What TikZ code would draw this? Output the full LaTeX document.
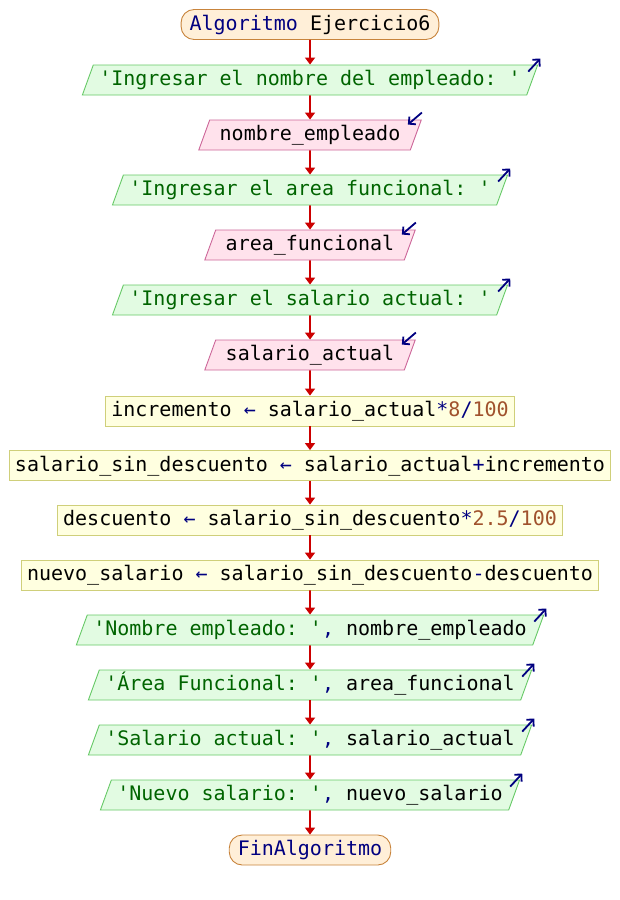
\documentclass[tikz,border=0pt]{standalone}
\usepackage{fontspec}
\setmonofont{DejaVu Sans Mono}
\usetikzlibrary{shapes.geometric,arrows.meta,calc}

\definecolor{termfill}{HTML}{FFEFD8}
\definecolor{termline}{HTML}{C8843C}
\definecolor{outfill}{HTML}{E2FBE2}
\definecolor{outline}{HTML}{66C966}
\definecolor{infill}{HTML}{FFE2EC}
\definecolor{inline}{HTML}{CC6699}
\definecolor{procfill}{HTML}{FFFFE0}
\definecolor{procline}{HTML}{CFCF7A}
\definecolor{flowred}{HTML}{CC0000}
\definecolor{kwblue}{HTML}{000080}
\definecolor{strgreen}{HTML}{006400}
\definecolor{numbrown}{HTML}{A0522D}

% token colouring
\newcommand{\pkw}[1]{\textcolor{kwblue}{#1}}
\newcommand{\pop}[1]{\textcolor{kwblue}{#1}}
\newcommand{\pstr}[1]{\textcolor{strgreen}{#1}}
\newcommand{\pnum}[1]{\textcolor{numbrown}{#1}}

\tikzset{
  base/.style={font=\ttfamily\fontsize{20pt}{24pt}\selectfont,
    text height=15pt, text depth=4pt, inner ysep=5.5pt, line width=0.9pt},
  terminal/.style={base, rectangle, rounded corners=13pt, draw=termline,
    fill=termfill, inner xsep=8.5pt},
  procbox/.style={base, rectangle, draw=procline, fill=procfill, inner xsep=5.5pt},
  outbox/.style={base, trapezium, trapezium left angle=70,
    trapezium right angle=110, draw=outline, fill=outfill, inner xsep=6pt},
  inbox/.style={base, trapezium, trapezium left angle=70,
    trapezium right angle=110, draw=inline, fill=infill, inner xsep=10pt},
  flow/.style={draw=flowred, line width=1.6pt,
    -{Triangle[length=7pt,width=10pt]}},
  ioarrow/.style={draw=kwblue, line width=1.8pt,
    -{Straight Barb[length=5pt,width=10pt]}}
}

\begin{document}
\begin{tikzpicture}[x=1pt,y=-1pt]
\useasboundingbox (0,0) rectangle (620,900);

\node[terminal] (n1) at (310,24.5) {\pkw{Algoritmo} Ejercicio6};
\node[outbox] (n2) at (310,80) {\pstr{'Ingresar el nombre del empleado: '}};
\node[inbox] (n3) at (310,135) {nombre\_empleado};
\node[outbox] (n4) at (310,190) {\pstr{'Ingresar el area funcional: '}};
\node[inbox] (n5) at (310,245) {area\_funcional};
\node[outbox] (n6) at (310,300) {\pstr{'Ingresar el salario actual: '}};
\node[inbox] (n7) at (310,355) {salario\_actual};
\node[procbox] (n8) at (310,411) {incremento \pop{←} salario\_actual\pop{*}\pnum{8}\pop{/}\pnum{100}};
\node[procbox] (n9) at (310,465.5) {salario\_sin\_descuento \pop{←} salario\_actual\pop{+}incremento};
\node[procbox] (n10) at (310,520) {descuento \pop{←} salario\_sin\_descuento\pop{*}\pnum{2.5}\pop{/}\pnum{100}};
\node[procbox] (n11) at (310,575) {nuevo\_salario \pop{←} salario\_sin\_descuento\pop{-}descuento};
\node[outbox] (n12) at (310,630) {\pstr{'Nombre empleado: '}\pop{,} nombre\_empleado};
\node[outbox] (n13) at (310,685) {\pstr{'Área Funcional: '}\pop{,} area\_funcional};
\node[outbox] (n14) at (310,740) {\pstr{'Salario actual: '}\pop{,} salario\_actual};
\node[outbox] (n15) at (310,795) {\pstr{'Nuevo salario: '}\pop{,} nuevo\_salario};
\node[terminal] (n16) at (310,850) {\pkw{FinAlgoritmo}};

% control flow
\foreach \a/\b in {n1/n2,n2/n3,n3/n4,n4/n5,n5/n6,n6/n7,n7/n8,n8/n9,
                   n9/n10,n10/n11,n11/n12,n12/n13,n13/n14,n14/n15,n15/n16}
  \draw[flow] (\a.south) -- (\b.north);

% output markers (arrow leaving the shape)
\foreach \n in {n2,n4,n6,n12,n13,n14,n15}
  \draw[ioarrow] ($(\n.top right corner)+(-10,7)$) -- ++(12,-13);

% input markers (arrow entering the shape)
\foreach \n in {n3,n5,n7}
  \draw[ioarrow] ($(\n.top right corner)+(0,-7)$) -- ++(-14,12);
\end{tikzpicture}
\end{document}
